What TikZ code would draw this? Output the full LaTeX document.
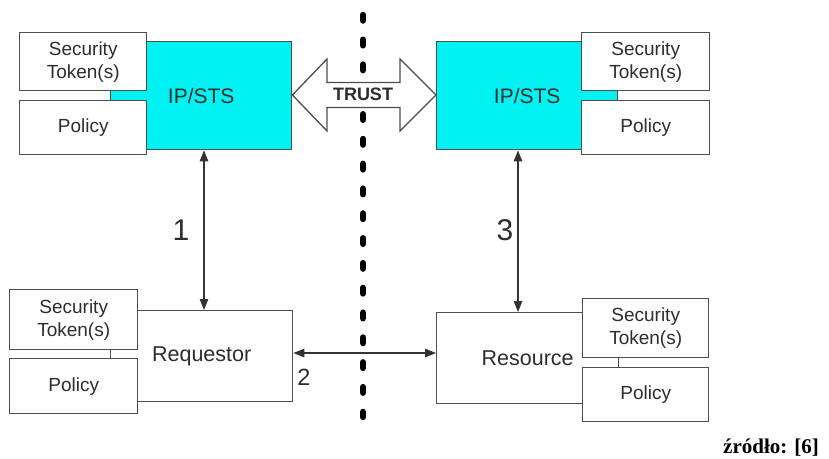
\documentclass[tikz,border=0pt]{standalone}
\usepackage{fontspec}
\setmainfont{Liberation Sans}
\newfontfamily\srcfont{Liberation Serif}
\usetikzlibrary{arrows.meta}
\definecolor{stscyan}{RGB}{0,242,242}
\definecolor{edgegray}{RGB}{78,78,78}
\definecolor{inkgray}{RGB}{45,45,45}
\begin{document}
\begin{tikzpicture}[x=1pt,y=-1pt,
  box/.style={draw=edgegray, line width=1.4pt, fill=white, inner sep=0pt,
    anchor=north west, text=inkgray, align=center},
  stsbox/.style={box, fill=stscyan, font=\fontsize{21}{25}\selectfont},
  mainbox/.style={box, font=\fontsize{21.5}{25}\selectfont},
  smallbox/.style={box, font=\fontsize{19}{23}\selectfont},
  link/.style={draw=black!80, line width=1.3pt,
    {Triangle[length=11pt,width=8.5pt]}-{Triangle[length=11pt,width=8.5pt]}},
  steplabel/.style={text=inkgray, inner sep=0pt},
  border/.style={draw=black, line width=6.5pt, line cap=round,
    dash pattern=on 5.5pt off 19.31pt}]
\useasboundingbox (0,0) rectangle (829,458);

% trust boundary
\coordinate (bt) at (363,15);
\coordinate (bb) at (363,417);
\draw[border] (bt) -- (bb);

% identity providers / security token services
\node[stsbox, minimum width=181pt, minimum height=108pt] (stsL) at (110,41) {IP/STS};
\node[stsbox, minimum width=181pt, minimum height=108pt] (stsR) at (436,41) {IP/STS};
\node[smallbox, minimum width=127pt, minimum height=58pt] (tokL) at (19,32) {Security\\Token(s)};
\node[smallbox, minimum width=127pt, minimum height=54pt] (polL) at (19,100) {Policy};
\node[smallbox, minimum width=128pt, minimum height=58pt] (tokR) at (581,32) {Security\\Token(s)};
\node[smallbox, minimum width=128pt, minimum height=54pt] (polR) at (581,100) {Policy};

% requestor and resource
\node[mainbox, minimum width=182pt, minimum height=91pt] (req) at (110,310) {Requestor};
\node[smallbox, minimum width=128pt, minimum height=60pt] (tokQ) at (9,289) {Security\\Token(s)};
\node[smallbox, minimum width=128pt, minimum height=55pt] (polQ) at (9,358) {Policy};
\node[mainbox, minimum width=182pt, minimum height=91pt] (res) at (436,312) {Resource};
\node[smallbox, minimum width=126pt, minimum height=59pt] (tokS) at (582,298) {Security\\Token(s)};
\node[smallbox, minimum width=126pt, minimum height=54pt] (polS) at (582,367) {Policy};

% trust double arrow between the two services
\draw[draw=edgegray, line width=1.3pt, fill=white]
  (stsL.east |- 0,95) -- (327,59) -- (327,82.5) -- (400,82.5) -- (400,59)
  -- (stsR.west |- 0,95) -- (400,131) -- (400,107.5) -- (327,107.5)
  -- (327,131) -- cycle;
\node[font=\bfseries\fontsize{18}{20}\selectfont, text=inkgray, inner sep=0pt] (trust) at (363,94.5) {TRUST};

% message flows
\coordinate (x1) at (204,0);
\coordinate (x3) at (518,0);
\coordinate (y2) at (0,353);
\draw[link] (x1 |- stsL.south) -- (x1 |- req.north);
\draw[link] (x3 |- stsR.south) -- (x3 |- res.north);
\draw[link] (req.east |- y2) -- (res.west |- y2);

\node[steplabel, font=\fontsize{30}{30}\selectfont] (n1) at (181,230) {1};
\node[steplabel, font=\fontsize{23.5}{24}\selectfont] (n2) at (304,377) {2};
\node[steplabel, font=\fontsize{30}{30}\selectfont] (n3) at (505,230) {3};

% source note
\node[font=\srcfont\bfseries\fontsize{21}{24}\selectfont, anchor=base east, inner sep=0pt] (src) at (819,453) {źródło: [6]};
\end{tikzpicture}
\end{document}
